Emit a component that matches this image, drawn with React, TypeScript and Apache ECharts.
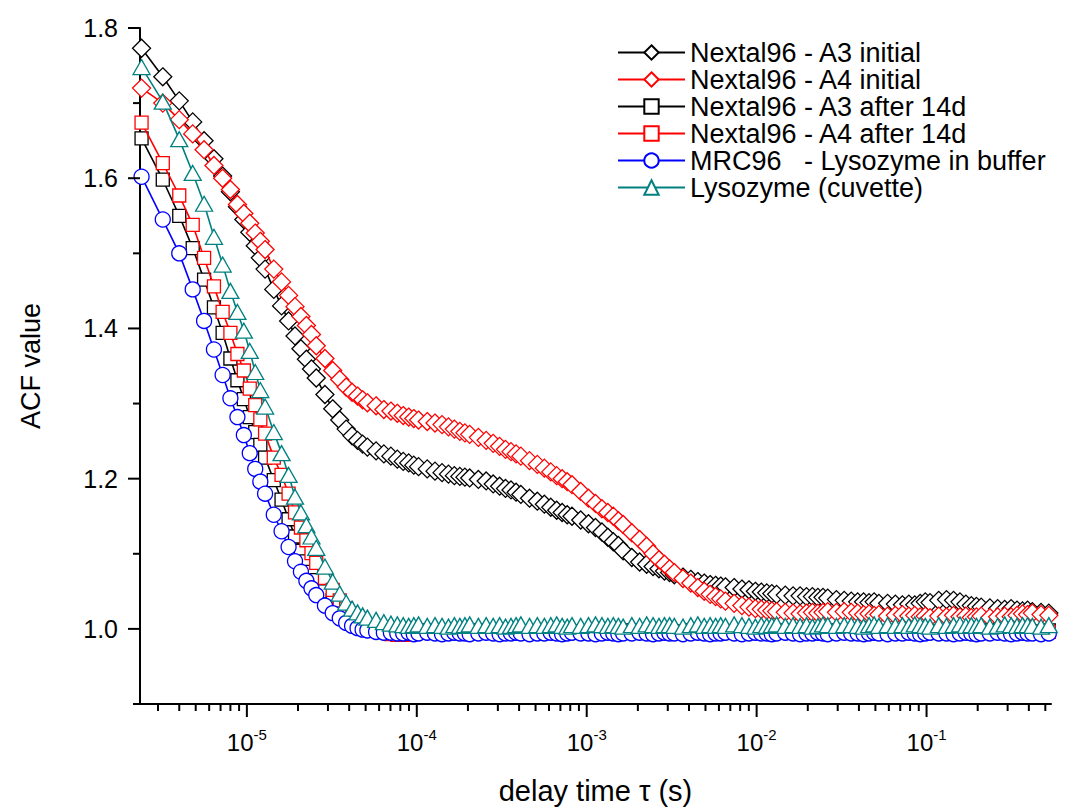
import React, { useEffect, useRef } from 'react';
import * as echarts from 'echarts';

// Correlator lag times in microseconds
const tauMicroseconds = [
  2.4, 3.2, 4.0, 4.8, 5.6, 6.4, 7.2, 8.0, 8.8, 9.6, 10.4, 11.2, 12.0, 12.8,
  14.4, 16.0, 17.6, 19.2, 20.8, 22.4, 24.0, 25.6,
  28.8, 32.0, 35.2, 38.4, 41.6, 44.8, 48.0, 51.2,
  57.6, 64.0, 70.4, 76.8, 83.2, 89.6, 96.0, 102.4,
  115.2, 128.0, 140.8, 153.6, 166.4, 179.2, 192.0, 204.8,
  230.4, 256.0, 281.6, 307.2, 332.8, 358.4, 384.0, 409.6,
  460.8, 512.0, 563.2, 614.4, 665.6, 716.8, 768.0, 819.2,
  921.6, 1024, 1126.4, 1228.8, 1331.2, 1433.6, 1536, 1638.4,
  1843.2, 2048, 2252.8, 2457.6, 2662.4, 2867.2, 3072, 3276.8,
  3686.4, 4096, 4505.6, 4915.2, 5324.8, 5734.4, 6144, 6553.6,
  7372.8, 8192, 9011.2, 9830.4, 10649.6, 11468.8, 12288, 13107.2,
  14745.6, 16384, 18022.4, 19660.8, 21299.2, 22937.6, 24576, 26214.4,
  29491.2, 32768, 36044.8, 39321.6, 42598.4, 45875.2, 49152, 52428.8,
  58982.4, 65536, 72089.6, 78643.2, 85196.8, 91750.4, 98304, 104857.6,
  117964.8, 131072, 144179.2, 157286.4, 170393.6, 183500.8, 196608, 209715.2,
  235929.6, 262144, 288358.4, 314572.8, 340787.2, 367001.6, 393216, 419430.4,
  471859.2, 524288,
];

const a3Initial = [
  1.773, 1.735, 1.703, 1.675, 1.650, 1.626, 1.603, 1.582, 1.562, 1.545, 1.528, 1.510, 1.494, 1.479,
  1.452, 1.430, 1.410, 1.390, 1.373, 1.359, 1.346, 1.334,
  1.312, 1.293, 1.278, 1.266, 1.257, 1.251, 1.246, 1.242,
  1.237, 1.233, 1.230, 1.226, 1.223, 1.221, 1.218, 1.216,
  1.213, 1.210, 1.208, 1.206, 1.204, 1.203, 1.202, 1.201,
  1.199, 1.197, 1.193, 1.190, 1.187, 1.185, 1.182, 1.179,
  1.174, 1.170, 1.166, 1.162, 1.158, 1.155, 1.152, 1.150,
  1.145, 1.140, 1.135, 1.129, 1.122, 1.116, 1.111, 1.104,
  1.095, 1.089, 1.086, 1.083, 1.080, 1.077, 1.075, 1.072,
  1.069, 1.066, 1.063, 1.061, 1.059, 1.058, 1.057, 1.056,
  1.055, 1.053, 1.052, 1.050, 1.049, 1.048, 1.047, 1.046,
  1.045, 1.044, 1.044, 1.043, 1.043, 1.042, 1.042, 1.041,
  1.039, 1.038, 1.037, 1.036, 1.036, 1.035, 1.036, 1.034,
  1.034, 1.033, 1.032, 1.033, 1.032, 1.034, 1.036, 1.035,
  1.038, 1.039, 1.038, 1.036, 1.033, 1.031, 1.030, 1.029,
  1.028, 1.027, 1.026, 1.027, 1.025, 1.024, 1.025, 1.023,
  1.022, 1.021,
];

const a4Initial = [
  1.720, 1.700, 1.678, 1.659, 1.638, 1.617, 1.600, 1.585, 1.565, 1.553, 1.540, 1.527, 1.516, 1.505,
  1.479, 1.462, 1.444, 1.429, 1.416, 1.404, 1.392, 1.377,
  1.360, 1.344, 1.332, 1.322, 1.315, 1.310, 1.305, 1.301,
  1.297, 1.292, 1.290, 1.287, 1.284, 1.282, 1.280, 1.278,
  1.276, 1.274, 1.272, 1.269, 1.266, 1.263, 1.261, 1.259,
  1.255, 1.251, 1.247, 1.243, 1.239, 1.236, 1.233, 1.230,
  1.224, 1.219, 1.214, 1.209, 1.204, 1.200, 1.196, 1.192,
  1.183, 1.174, 1.167, 1.160, 1.155, 1.150, 1.144, 1.139,
  1.128, 1.119, 1.110, 1.100, 1.092, 1.086, 1.080, 1.075,
  1.067, 1.061, 1.055, 1.050, 1.046, 1.043, 1.040, 1.037,
  1.034, 1.031, 1.029, 1.027, 1.026, 1.025, 1.024, 1.023,
  1.022, 1.021, 1.020, 1.021, 1.022, 1.021, 1.022, 1.023,
  1.022, 1.023, 1.022, 1.021, 1.019, 1.020, 1.018, 1.019,
  1.017, 1.018, 1.019, 1.017, 1.018, 1.016, 1.017, 1.015,
  1.017, 1.016, 1.018, 1.016, 1.017, 1.015, 1.016, 1.017,
  1.015, 1.016, 1.017, 1.016, 1.018, 1.020, 1.019, 1.021,
  1.019, 1.018,
];

const a3After14d = [
  1.653, 1.598, 1.550, 1.507, 1.465, 1.428, 1.394, 1.360, 1.331, 1.306, 1.282, 1.262, 1.245, 1.228,
  1.198, 1.172, 1.146, 1.123, 1.104, 1.090, 1.076, 1.065,
  1.050, 1.038, 1.027, 1.019, 1.013, 1.009, 1.006, 1.003,
  1.000, 0.998,
  0.997, 0.998, 0.997, 0.996, 0.997, 0.998, 0.997, 0.997, 0.996, 0.997,
  0.998, 0.997, 0.996, 0.997, 0.998, 0.997, 0.997, 0.996, 0.997, 0.998,
  0.997, 0.996, 0.997, 0.997, 0.998, 0.997, 0.996, 0.997, 0.998, 0.997,
  0.997, 0.996, 0.997, 0.998, 0.997, 0.996, 0.997, 0.997, 0.998, 0.997,
  0.996, 0.997, 0.998, 0.997, 0.997, 0.996, 0.997, 0.998, 0.997, 0.996,
  0.997, 0.997, 0.998, 0.997, 0.996, 0.997, 0.998, 0.997, 0.997, 0.996,
  0.997, 0.998, 0.997, 0.996, 0.997, 0.997, 0.998, 0.997, 0.996, 0.997,
  0.998, 0.997, 0.997, 0.996, 0.997, 0.998, 0.997, 0.996, 0.997, 0.997,
  0.998, 0.997, 0.996, 0.997, 0.998, 0.997, 0.997, 0.996, 0.997, 0.998,
  0.997, 0.996, 0.997, 0.997, 0.998, 0.997, 0.996, 0.997, 0.998, 0.997,
  0.997, 0.996, 0.997, 0.998,
];

const a4After14d = [
  1.674, 1.620, 1.577, 1.538, 1.494, 1.456, 1.422, 1.394, 1.366, 1.344, 1.320, 1.298, 1.279, 1.260,
  1.228, 1.205, 1.180, 1.155, 1.135, 1.118, 1.101, 1.088,
  1.068, 1.052, 1.038, 1.027, 1.019, 1.013, 1.008, 1.004,
  0.999, 0.996,
  0.993, 0.992, 0.992, 0.993, 0.994, 0.995,
  0.996, 0.995, 0.996, 0.997, 0.996, 0.995, 0.996, 0.996, 0.997, 0.996,
  0.995, 0.996, 0.997, 0.996, 0.996, 0.995, 0.996, 0.997, 0.996, 0.995,
  0.996, 0.996, 0.997, 0.996, 0.995, 0.996, 0.997, 0.996, 0.996, 0.995,
  0.996, 0.997, 0.996, 0.995, 0.996, 0.996, 0.997, 0.996, 0.995, 0.996,
  0.997, 0.996, 0.996, 0.995, 0.996, 0.997, 0.996, 0.995, 0.996, 0.996,
  0.997, 0.996, 0.995, 0.996, 0.997, 0.996, 0.996, 0.995, 0.996, 0.997,
  0.996, 0.995, 0.996, 0.996, 0.997, 0.996, 0.995, 0.996, 0.997, 0.996,
  0.996, 0.995, 0.996, 0.997, 0.996, 0.995, 0.996, 0.996, 0.997, 0.996,
  0.995, 0.996, 0.997, 0.996, 0.996, 0.995, 0.996, 0.997, 0.996, 0.995,
  0.996, 0.996, 0.997, 0.996, 0.995, 0.996, 0.997, 0.996,
];

const mrc96Buffer = [
  1.602, 1.545, 1.500, 1.452, 1.410, 1.372, 1.338, 1.307, 1.282, 1.258, 1.234, 1.213, 1.196, 1.180,
  1.152, 1.130, 1.109, 1.090, 1.076, 1.064, 1.054, 1.045,
  1.031, 1.021, 1.014, 1.008, 1.004, 1.001, 0.999, 0.998,
  0.996, 0.995,
  0.995, 0.994, 0.994, 0.995, 0.993, 0.994, 0.995, 0.994, 0.993, 0.994,
  0.995, 0.994, 0.994, 0.993, 0.994, 0.995, 0.994, 0.993, 0.994, 0.994,
  0.995, 0.994, 0.993, 0.994, 0.994, 0.995, 0.994, 0.993, 0.994, 0.995,
  0.994, 0.994, 0.993, 0.994, 0.995, 0.994, 0.993, 0.994, 0.994, 0.995,
  0.994, 0.993, 0.994, 0.995, 0.994, 0.994, 0.993, 0.994, 0.995, 0.994,
  0.993, 0.994, 0.994, 0.995, 0.994, 0.993, 0.994, 0.995, 0.994, 0.994,
  0.993, 0.994, 0.995, 0.994, 0.993, 0.994, 0.994, 0.995, 0.994, 0.993,
  0.994, 0.995, 0.994, 0.994, 0.993, 0.994, 0.995, 0.994, 0.993, 0.994,
  0.994, 0.995, 0.994, 0.993, 0.994, 0.995, 0.994, 0.994, 0.993, 0.994,
  0.995, 0.994, 0.993, 0.994, 0.994, 0.995, 0.994, 0.993, 0.994, 0.995,
  0.994, 0.994, 0.993, 0.994,
];

const lysozymeCuvette = [
  1.748, 1.702, 1.652, 1.607, 1.566, 1.522, 1.485, 1.450, 1.422, 1.397, 1.370, 1.342, 1.318, 1.296,
  1.262, 1.234, 1.205, 1.176, 1.155, 1.138, 1.123, 1.108,
  1.083, 1.063, 1.047, 1.035, 1.027, 1.022, 1.018, 1.015,
  1.012, 1.009, 1.007, 1.006,
  1.005, 1.004, 1.005, 1.006, 1.004, 1.005, 1.004, 1.003, 1.005, 1.004,
  1.005, 1.006, 1.004, 1.005, 1.004, 1.005, 1.003, 1.004, 1.005, 1.006,
  1.004, 1.005, 1.004, 1.005, 1.006, 1.004, 1.003, 1.005, 1.004, 1.005,
  1.006, 1.005, 1.004, 1.005, 1.004, 1.003, 1.005, 1.004, 1.006, 1.005,
  1.004, 1.005, 1.005, 1.004, 1.003, 1.005, 1.006, 1.004, 1.005, 1.004,
  1.005, 1.004, 1.006, 1.005, 1.004, 1.003, 1.005, 1.004, 1.005, 1.006,
  1.004, 1.005, 1.004, 1.005, 1.003, 1.004, 1.006, 1.005, 1.004, 1.005,
  1.005, 1.004, 1.003, 1.005, 1.006, 1.004, 1.005, 1.004, 1.005, 1.004,
  1.006, 1.005, 1.004, 1.003, 1.005, 1.004, 1.005, 1.006, 1.004, 1.005,
  1.004, 1.005, 1.003, 1.004, 1.006, 1.005, 1.004, 1.005, 1.005, 1.004,
  1.003, 1.005,
];

const seriesNames = [
  'Nextal96 - A3 initial',
  'Nextal96 - A4 initial',
  'Nextal96 - A3 after 14d',
  'Nextal96 - A4 after 14d',
  'MRC96   - Lysozyme in buffer',
  'Lysozyme (cuvette)',
];
const seriesValues = [a3Initial, a4Initial, a3After14d, a4After14d, mrc96Buffer, lysozymeCuvette];
const seriesColors = ['#000000', '#ff0000', '#000000', '#ff0000', '#0000ff', '#008080'];
const seriesSymbols = ['diamond', 'diamond', 'rect', 'rect', 'circle', 'triangle'];
const seriesSymbolSizes: any[] = [18, 18, 13, 13, 15, [17, 15]];

// Axis ranges and ticks
const X_MIN = 2.35e-6;
const X_MAX = 0.54;
const Y_MIN = 0.9;
const Y_MAX = 1.8;
const xMajorTicks = [1e-5, 1e-4, 1e-3, 1e-2, 1e-1];
const xMinorMantissas = [2, 3, 4, 5, 6, 7, 8, 9];
const xDecades = [1e-6, 1e-5, 1e-4, 1e-3, 1e-2, 1e-1];
const yMajorTicks = [1.0, 1.2, 1.4, 1.6, 1.8];
const yMinorTicks = [0.9, 1.1, 1.3, 1.5, 1.7];

const FONT = "'Liberation Sans', Arial, Helvetica, sans-serif";

export default function App() {
  const ref = useRef<HTMLDivElement>(null);

  useEffect(() => {
    if (!ref.current) return;
    const chart = echarts.init(ref.current, undefined, { renderer: 'svg' });

    const xMinor: number[] = [];
    xDecades.forEach((d) => {
      xMinorMantissas.forEach((m) => {
        const v = m * d;
        if (v > X_MIN && v < X_MAX) xMinor.push(v);
      });
    });
    const xTickData = [
      ...xMajorTicks.map((v) => [v, Y_MIN, 13]),
      ...xMinor.map((v) => [v, Y_MIN, 7]),
    ];
    const yTickData = [
      ...yMajorTicks.map((v) => [X_MIN, v, 12]),
      ...yMinorTicks.map((v) => [X_MIN, v, 7]),
    ];

    const lineSeries = seriesNames.map((name, k) => ({
      name,
      type: 'line',
      data: tauMicroseconds.map((t, i) => [t * 1e-6, seriesValues[k][i]]),
      symbol: seriesSymbols[k],
      symbolSize: seriesSymbolSizes[k],
      showAllSymbol: true,
      clip: false,
      lineStyle: { color: seriesColors[k], width: 1.6 },
      itemStyle: { color: '#ffffff', borderColor: seriesColors[k], borderWidth: 1.3 },
      emphasis: { disabled: true },
      z: 2 + k,
    }));

    chart.setOption({
      animation: false,
      backgroundColor: '#ffffff',
      textStyle: { fontFamily: FONT },
      grid: { left: 140, right: 27, top: 28, bottom: 106, containLabel: false },
      legend: {
        data: seriesNames,
        orient: 'vertical',
        left: 612,
        top: 34,
        itemWidth: 67,
        itemHeight: 18,
        itemGap: 0,
        selectedMode: false,
        textStyle: { fontSize: 27, color: '#000', fontFamily: FONT, lineHeight: 27 },
        lineStyle: { width: 2 },
      },
      xAxis: {
        type: 'log',
        logBase: 10,
        min: X_MIN,
        max: X_MAX,
        axisLine: { show: true, onZero: false, lineStyle: { color: '#000', width: 2 } },
        axisTick: { show: false },
        splitLine: { show: false },
        axisLabel: {
          margin: 23,
          color: '#000',
          formatter: (v: number) => {
            const e = Math.log10(v);
            const r = Math.round(e);
            if (Math.abs(e - r) > 1e-6) return '';
            return `{b|10}{s|${r}}`;
          },
          rich: {
            b: { fontSize: 24, fontFamily: FONT, color: '#000', lineHeight: 30 },
            s: { fontSize: 15, fontFamily: FONT, color: '#000', verticalAlign: 'top', lineHeight: 14 },
          },
        },
        name: 'delay time τ (s)',
        nameLocation: 'middle',
        nameGap: 72,
        nameTextStyle: { fontSize: 29, color: '#000', fontFamily: FONT, verticalAlign: 'top' },
      },
      yAxis: {
        type: 'value',
        min: Y_MIN,
        max: Y_MAX,
        axisLine: { show: true, onZero: false, lineStyle: { color: '#000', width: 2 } },
        axisTick: { show: false },
        splitLine: { show: false },
        axisLabel: {
          margin: 22,
          fontSize: 25,
          color: '#000',
          fontFamily: FONT,
          formatter: (v: number) => (v < 0.95 ? '' : v.toFixed(1)),
        },
        name: 'ACF value',
        nameLocation: 'middle',
        nameGap: 96,
        nameTextStyle: { fontSize: 27, color: '#000', fontFamily: FONT },
      },
      series: [
        ...lineSeries,
        {
          name: 'xticks',
          type: 'custom',
          silent: true,
          z: 20,
          data: xTickData,
          renderItem: (params: any, api: any) => {
            const p = api.coord([api.value(0), api.value(1)]);
            const len = api.value(2);
            return {
              type: 'line',
              shape: { x1: p[0], y1: p[1], x2: p[0], y2: p[1] + len },
              style: { stroke: '#000', lineWidth: 2 },
            };
          },
        },
        {
          name: 'yticks',
          type: 'custom',
          silent: true,
          z: 20,
          data: yTickData,
          renderItem: (params: any, api: any) => {
            const p = api.coord([api.value(0), api.value(1)]);
            const len = api.value(2);
            return {
              type: 'line',
              shape: { x1: p[0] - len, y1: p[1], x2: p[0], y2: p[1] },
              style: { stroke: '#000', lineWidth: 2 },
            };
          },
        },
      ],
    });

    return () => chart.dispose();
  }, []);

  return (
    <div
      ref={ref}
      style={{ position: 'absolute', left: 0, top: 0, width: 1078, height: 810, background: '#fff' }}
    />
  );
}
